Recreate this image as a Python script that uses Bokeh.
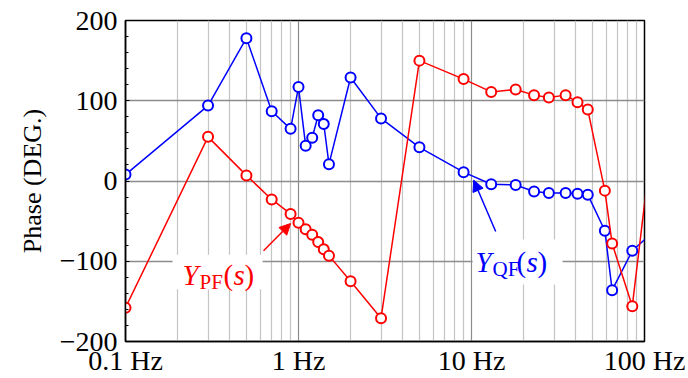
from bokeh.plotting import figure
from bokeh.models import FixedTicker, Label, Arrow, NormalHead, BoxAnnotation
from bokeh.embed import file_html
from bokeh.resources import INLINE

# ---- data ----
freq = [0.1, 0.3, 0.5, 0.7, 0.9, 1.0, 1.1, 1.2, 1.3, 1.4, 1.5, 2, 3, 5, 9,
        13, 18, 23, 28, 35, 41, 47, 59, 65, 85, 110]
phase_qf = [8, 94, 178, 87, 65, 117, 44, 54, 82, 71, 21, 129, 78, 42, 11,
            -4, -5, -13, -15, -15, -16, -17, -62, -136, -87, -65]
phase_pf = [-158, 55, 7, -23, -41, -52, -60, -67, -76, -85, -93, -125, -171, 150, 127,
            111, 114, 107, 104, 107, 98, 89, -12, -78, -156, 46]

x_ticks = [0.1, 1, 10, 100]
x_tick_labels = ["0.1 Hz", "1 Hz", "10 Hz", "100 Hz"]
x_minor = [m * d for d in [0.1, 1, 10] for m in range(2, 10)]
y_ticks = [-200, -100, 0, 100, 200]
y_tick_labels = ["\u2212200", "\u2212100", "0", "100", "200"]
y_minor = list(range(-200, 201, 20))

FONT = "Liberation Serif"
BLUE = "#0000ff"
RED = "#ff0000"

p = figure(width=688, height=378, x_axis_type="log", x_range=(0.1, 100), y_range=(-200, 200),
           output_backend="svg", toolbar_location=None,
           min_border_left=125, min_border_right=44, min_border_top=20, min_border_bottom=35)
p.background_fill_color = "white"
p.border_fill_color = "white"
p.outline_line_color = "black"
p.outline_line_width = 1.5

# axes
p.xaxis.ticker = FixedTicker(ticks=x_ticks, minor_ticks=x_minor)
p.xaxis.major_label_overrides = {t: l for t, l in zip(x_ticks, x_tick_labels)}
p.yaxis.ticker = FixedTicker(ticks=y_ticks, minor_ticks=y_minor)
p.yaxis.major_label_overrides = {t: l for t, l in zip(y_ticks, y_tick_labels)}
for ax in (p.xaxis, p.yaxis):
    ax.major_label_text_font = FONT
    ax.major_label_text_font_size = "28px"
    ax.major_label_text_color = "black"
    ax.axis_line_color = "black"
    ax.axis_line_width = 1.5
    ax.major_tick_out = 0
    ax.minor_tick_out = 0
p.xaxis.major_tick_in = 0
p.xaxis.minor_tick_in = 0
p.xaxis.major_label_standoff = 3
p.yaxis.major_tick_in = 4
p.yaxis.minor_tick_in = 3
p.yaxis.major_tick_line_color = "black"
p.yaxis.minor_tick_line_color = "black"
p.yaxis.major_label_standoff = 8
p.yaxis.axis_label = "Phase (DEG.)"
p.yaxis.axis_label_text_font = FONT
p.yaxis.axis_label_text_font_size = "26px"
p.yaxis.axis_label_text_font_style = "normal"
p.yaxis.axis_label_text_color = "black"
p.yaxis.axis_label_standoff = 10

# grids
p.xgrid.grid_line_color = "#8c8c8c"
p.xgrid.grid_line_width = 1.2
p.xgrid.minor_grid_line_color = "#c4c4c4"
p.xgrid.minor_grid_line_width = 1.2
p.ygrid.grid_line_color = "#8c8c8c"
p.ygrid.grid_line_width = 1.5

# white boxes behind labels
p.add_layout(BoxAnnotation(left=0.187, right=0.62, top=-92, bottom=-135,
                           fill_color="white", fill_alpha=1, line_color=None, level="underlay"))
p.add_layout(BoxAnnotation(left=10.15, right=33.6, top=-73, bottom=-129,
                           fill_color="white", fill_alpha=1, line_color=None, level="underlay"))

# series
p.line(freq, phase_qf, color=BLUE, line_width=1.5)
p.scatter(freq, phase_qf, marker="circle", size=10, line_color=BLUE, line_width=2, fill_color="white")
p.line(freq, phase_pf, color=RED, line_width=1.5)
p.scatter(freq, phase_pf, marker="circle", size=10, line_color=RED, line_width=2, fill_color="white")

# arrows
p.add_layout(Arrow(end=NormalHead(size=11, fill_color=RED, line_color=RED, line_width=1),
                   x_start=0.628, y_start=-87, x_end=0.9, y_end=-53,
                   line_color=RED, line_width=1.5))
p.add_layout(Arrow(end=NormalHead(size=11, fill_color=BLUE, line_color=BLUE, line_width=1),
                   x_start=13.8, y_start=-63, x_end=10.3, y_end=1,
                   line_color=BLUE, line_width=1.5))

def math_label(x, y, sub, color):
    parts = [("Y", "italic", "29px", 0, 0),
             (sub, "normal", "21px", 17, -7),
             ("(", "normal", "29px", 16 + 11 * len(sub) + 3, 0),
             ("s", "italic", "29px", 16 + 11 * len(sub) + 13, 0),
             (")", "normal", "29px", 16 + 11 * len(sub) + 24, 0)]
    for txt, style, size, dx, dy in parts:
        p.add_layout(Label(x=x, y=y, text=txt, x_offset=dx, y_offset=dy,
                           text_font=FONT, text_font_style=style, text_font_size=size,
                           text_color=color, text_baseline="alphabetic", text_align="left"))

math_label(0.2135, -117.7, "PF", RED)
math_label(10.55, -100.4, "QF", BLUE)

open("out.html", "w").write(file_html(p, INLINE))
